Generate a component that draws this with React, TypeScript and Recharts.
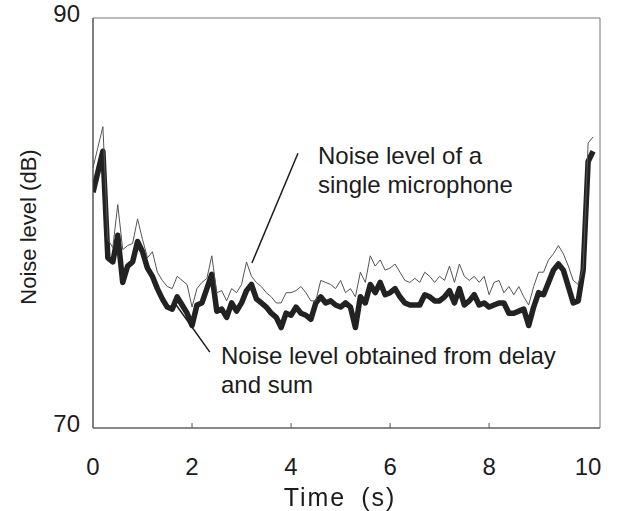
import React from 'react'
import {
  LineChart, Line, XAxis, YAxis, ReferenceArea, ReferenceLine,
} from 'recharts'

const SINGLE_MIC = [
  82.7, 83.7, 84.7, 79.2, 78.8, 80.9, 78.7, 78.9, 79.0, 80.2,
  79.2, 78.3, 78.6, 77.6, 77.2, 76.9, 76.8, 77.4, 77.2, 77.0,
  75.9, 76.8, 77.1, 77.3, 78.4, 76.6, 76.7, 76.2, 76.8, 76.6,
  77.0, 78.1, 77.4, 77.1, 76.9, 76.6, 76.4, 76.1, 76.1, 76.6,
  76.6, 76.7, 76.9, 76.6, 76.2, 76.2, 77.2, 77.1, 77.0, 76.8,
  77.2, 76.6, 76.8, 76.4, 77.6, 77.1, 78.4, 77.9, 78.2, 77.7,
  77.8, 78.0, 77.6, 77.2, 77.1, 77.3, 77.1, 77.6, 77.4, 77.1,
  77.4, 77.2, 77.9, 77.1, 78.0, 77.4, 77.2, 77.4, 77.1, 77.4,
  76.5, 77.1, 77.2, 76.6, 76.9, 76.5, 76.9, 76.4, 76.0, 76.9,
  77.6, 77.6, 78.2, 78.5, 78.9, 78.5, 77.9, 77.2, 77.0, 77.8,
  83.9, 84.2,
]

const DELAY_SUM = [
  81.5, 82.5, 83.5, 78.3, 78.1, 79.4, 77.1, 77.9, 78.1, 79.1,
  78.6, 77.8, 77.4, 76.8, 76.3, 75.9, 75.8, 76.4, 76.0, 75.6,
  75.0, 76.0, 76.1, 76.8, 77.5, 75.7, 75.8, 75.4, 76.1, 75.7,
  76.1, 76.7, 77.0, 76.3, 76.1, 75.9, 75.6, 75.4, 74.9, 75.6,
  75.5, 75.9, 75.6, 75.5, 75.3, 76.1, 76.4, 76.1, 76.2, 76.0,
  75.9, 76.1, 75.9, 74.9, 76.4, 76.1, 77.0, 76.6, 77.1, 76.5,
  76.6, 76.8, 76.4, 76.1, 76.0, 76.0, 76.0, 76.5, 76.4, 76.2,
  76.2, 76.4, 76.7, 76.1, 76.8, 76.0, 76.2, 76.5, 76.0, 76.1,
  75.9, 76.0, 76.1, 76.1, 75.6, 75.6, 75.7, 75.8, 75.0, 75.9,
  76.6, 76.5, 77.1, 77.7, 78.0, 77.7, 76.9, 76.1, 76.2, 77.7,
  83.0, 83.5,
]

// sample times (s)
const TIME = SINGLE_MIC.map((_, i) => i / 10)

const X_TICKS = [0, 2, 4, 6, 8, 10]
const Y_TICKS = [70, 90]
const X_DOMAIN = [0, 10.24]
const Y_DOMAIN = [70, 90]

const rows = TIME.map((t, i) => ({ t, single: SINGLE_MIC[i], delaySum: DELAY_SUM[i] }))

const FONT = '"Liberation Sans", Arial, sans-serif'
const INK = '#1c1c1c'

function XTick(props: any) {
  const { x, y, payload } = props
  const v = payload.value
  return (
    <g>
      {v > 0 && v < 10 && <line x1={x} x2={x} y1={y} y2={y - 5} stroke="#555" strokeWidth={1} />}
      <text x={x} y={y + 38} textAnchor="middle" dominantBaseline="central"
        fontSize={24} fontFamily={FONT} fill={INK}>{v}</text>
    </g>
  )
}

function YTick(props: any) {
  const { x, y, payload } = props
  return (
    <text x={x - 13} y={y - 5} textAnchor="end" dominantBaseline="central"
      fontSize={24} fontFamily={FONT} fill={INK}>{payload.value}</text>
  )
}

const noteStyle: React.CSSProperties = {
  position: 'absolute',
  fontFamily: FONT,
  fontSize: 24,
  lineHeight: '29px',
  color: INK,
  whiteSpace: 'nowrap',
}

export default function App() {
  return (
    <div style={{ position: 'fixed', left: 0, top: 0, width: 618, height: 511, background: '#fff' }}>
      <LineChart width={618} height={511} data={rows}
        margin={{ top: 18, right: 18, bottom: 0, left: 0 }}>
        <XAxis dataKey="t" type="number" domain={X_DOMAIN} ticks={X_TICKS}
          allowDataOverflow height={83} tickSize={0} tickMargin={0}
          axisLine={{ stroke: '#555' }} tickLine={false} tick={<XTick />} />
        <YAxis type="number" domain={Y_DOMAIN} ticks={Y_TICKS} width={93}
          tickSize={0} tickMargin={0} axisLine={{ stroke: '#444' }} tickLine={false}
          tick={<YTick />} />
        <ReferenceArea x1={0} x2={10.24} y1={70} y2={90} fill="none" stroke="#777" strokeWidth={1} />

        <Line type="linear" dataKey="delaySum" stroke="#222" strokeWidth={5.5}
          strokeLinejoin="round" dot={false} isAnimationActive={false} />
        <Line type="linear" dataKey="single" stroke="#555" strokeWidth={1}
          dot={false} isAnimationActive={false} />

        <ReferenceLine segment={[{ x: 4.14, y: 83.4 }, { x: 3.21, y: 78.05 }]}
          stroke={INK} strokeWidth={1.5} />
        <ReferenceLine segment={[{ x: 1.68, y: 76.0 }, { x: 2.36, y: 73.7 }]}
          stroke={INK} strokeWidth={1.5} />
      </LineChart>

      <div style={{ ...noteStyle, left: 318, top: 141 }}>
        Noise level of a<br />single microphone
      </div>
      <div style={{ ...noteStyle, left: 221, top: 341 }}>
        Noise level obtained from delay<br />and sum
      </div>

      <div style={{
        ...noteStyle, left: 340, top: 497, fontSize: 25, letterSpacing: 2, wordSpacing: 6,
        transform: 'translate(-50%, -50%)',
      }}>
        Time (s)
      </div>
      <div style={{
        ...noteStyle, left: 28, top: 227, fontSize: 22,
        transform: 'translate(-50%, -50%) rotate(-90deg)',
      }}>
        Noise level (dB)
      </div>
    </div>
  )
}
